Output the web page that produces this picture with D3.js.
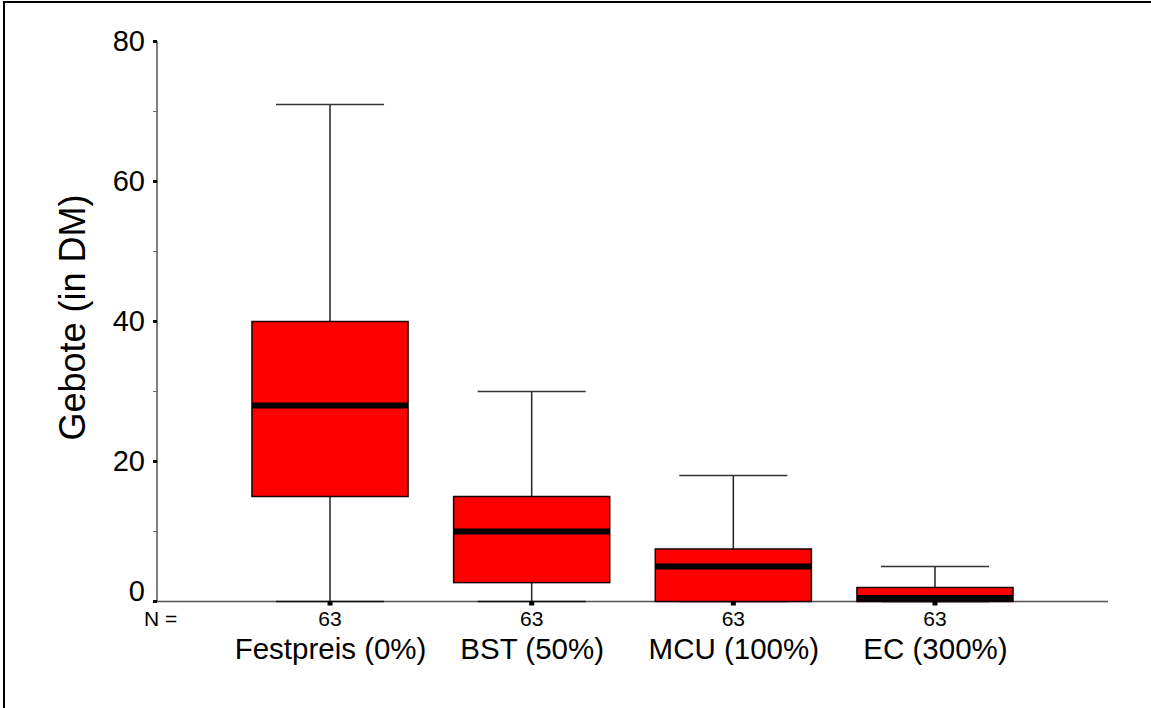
<!DOCTYPE html>
<html>
<head>
<meta charset="utf-8">
<script src="https://cdn.jsdelivr.net/npm/d3@7"></script>
<style>
  html, body { margin: 0; padding: 0; background: #fff; }
  svg { display: block; font-family: "Liberation Sans", Arial, sans-serif; }
</style>
</head>
<body>
<svg id="chart" width="1151" height="708"></svg>
<script>
// ---- data ----
const categories = ["Festpreis (0%)", "BST (50%)", "MCU (100%)", "EC (300%)"];
const whiskerLow = [0, 0, 0, 0];
const q1Values   = [15, 2.7, 0, 0];
const medians    = [28, 10, 5, 0.5];
const q3Values   = [40, 15, 7.5, 2];
const whiskerHigh = [71, 30, 18, 5];
const counts     = [63, 63, 63, 63];
const yMajorTicks = [0, 20, 40, 60, 80];
const yMinorTicks = [10, 30, 50, 70];
const yTitle = "Gebote (in DM)";
const nLabel = "N =";

const data = categories.map((c, i) => ({
  cat: c, lo: whiskerLow[i], q1: q1Values[i], med: medians[i],
  q3: q3Values[i], hi: whiskerHigh[i], n: counts[i]
}));

const svg = d3.select("#chart");

// frame (top + left edge visible)
svg.append("line").attr("x1", 3).attr("x2", 1151).attr("y1", 2).attr("y2", 2)
  .attr("stroke", "#000").attr("stroke-width", 2);
svg.append("line").attr("x1", 4).attr("x2", 4).attr("y1", 1).attr("y2", 708)
  .attr("stroke", "#000").attr("stroke-width", 2);

const x0 = 157, x1 = 1108, yTop = 41.5, yBot = 601.5;

const x = d3.scalePoint().domain(categories).range([x0, x1]).padding(0.858);
const y = d3.scaleLinear().domain([0, 80]).range([yBot, yTop]);
const step = x.step();
const boxW = step * 0.774;
const capW = step * 0.536;

// ---- Y axis ----
svg.append("line").attr("x1", x0).attr("x2", x0).attr("y1", y(80)).attr("y2", y(0))
  .attr("stroke", "#555").attr("stroke-width", 1.5);
const yAxis = d3.axisLeft(y).tickValues(yMajorTicks).tickSize(0).tickPadding(12);
const yg = svg.append("g").attr("transform", `translate(${x0},0)`).call(yAxis);
yg.select(".domain").remove();
yg.selectAll("text").attr("font-size", 29).attr("fill", "#000")
  .attr("font-family", "Liberation Sans, Arial, sans-serif")
  .attr("dy", d => d === 0 ? "-0.05em" : "0.32em");
// major tick squares
svg.append("g").selectAll("rect").data(yMajorTicks).join("rect")
  .attr("x", x0 - 4).attr("y", d => y(d) - 1.5).attr("width", 4).attr("height", 3)
  .attr("fill", "#000");
// minor ticks
svg.append("g").selectAll("line").data(yMinorTicks).join("line")
  .attr("x1", x0 - 4).attr("x2", x0).attr("y1", d => y(d)).attr("y2", d => y(d))
  .attr("stroke", "#666").attr("stroke-width", 1);

// axis title
svg.append("text")
  .attr("transform", `translate(85,${(yTop + yBot) / 2 - 4}) rotate(-90)`)
  .attr("text-anchor", "middle").attr("font-size", 36).attr("fill", "#000")
  .text(yTitle);

// ---- X axis ----
svg.append("line").attr("x1", x0).attr("x2", x1).attr("y1", yBot).attr("y2", yBot)
  .attr("stroke", "#555").attr("stroke-width", 1.5);

// ---- boxes ----
const g = svg.append("g");
const grp = g.selectAll("g.box").data(data).join("g").attr("class", "box");

// whiskers (vertical)
grp.append("line")
  .attr("x1", d => x(d.cat)).attr("x2", d => x(d.cat))
  .attr("y1", d => y(d.hi)).attr("y2", d => y(d.q3))
  .attr("stroke", "#222").attr("stroke-width", 1.5);
grp.append("line")
  .attr("x1", d => x(d.cat)).attr("x2", d => x(d.cat))
  .attr("y1", d => y(d.q1)).attr("y2", d => y(d.lo))
  .attr("stroke", "#222").attr("stroke-width", 1.5);
// caps
grp.append("line")
  .attr("x1", d => x(d.cat) - capW / 2).attr("x2", d => x(d.cat) + capW / 2)
  .attr("y1", d => y(d.hi)).attr("y2", d => y(d.hi))
  .attr("stroke", "#333").attr("stroke-width", 1.5);
grp.append("line")
  .attr("x1", d => x(d.cat) - capW / 2).attr("x2", d => x(d.cat) + capW / 2)
  .attr("y1", d => y(d.lo)).attr("y2", d => y(d.lo))
  .attr("stroke", "#111").attr("stroke-width", 1.5);
// box
grp.append("rect")
  .attr("x", d => x(d.cat) - boxW / 2).attr("width", boxW)
  .attr("y", d => y(d.q3)).attr("height", d => y(d.q1) - y(d.q3))
  .attr("fill", "#ff0000").attr("stroke", "#1a0000").attr("stroke-width", 1.5);
// median
grp.append("line")
  .attr("x1", d => x(d.cat) - boxW / 2).attr("x2", d => x(d.cat) + boxW / 2)
  .attr("y1", d => y(d.med)).attr("y2", d => y(d.med))
  .attr("stroke", "#000").attr("stroke-width", 6);

// x tick squares
svg.append("g").selectAll("rect").data(categories).join("rect")
  .attr("x", d => x(d) - 2.5).attr("y", yBot).attr("width", 5).attr("height", 4)
  .attr("fill", "#000");

// counts
svg.append("text").attr("x", 144).attr("y", 626).attr("font-size", 21)
  .attr("fill", "#000").text(nLabel);
svg.append("g").selectAll("text").data(data).join("text")
  .attr("x", d => x(d.cat)).attr("y", 626).attr("text-anchor", "middle")
  .attr("font-size", 21).attr("fill", "#000").text(d => d.n);

// category labels
const xAxis = d3.axisBottom(x).tickSize(0).tickPadding(0);
const xg = svg.append("g").attr("transform", `translate(0,${659})`).call(xAxis);
xg.select(".domain").remove();
xg.selectAll("text").attr("font-size", 29.5).attr("fill", "#000")
  .attr("font-family", "Liberation Sans, Arial, sans-serif").attr("dy", 0).attr("y", 0);
</script>
</body>
</html>
